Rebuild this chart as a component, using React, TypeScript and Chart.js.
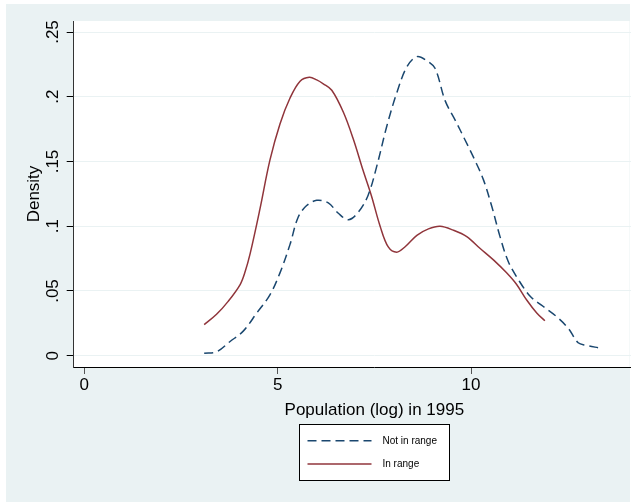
import React, { useEffect, useRef } from "react";
import { Chart, registerables } from "chart.js";

Chart.register(...registerables);

// ---- data ----
const seriesLabels = ["Not in range", "In range"];

const notInRangeX = [3.10, 3.42, 3.77, 4.11, 4.46, 4.80, 5.06, 5.32, 5.53, 5.75, 6.01, 6.31, 6.57, 6.83, 7.09, 7.34, 7.56, 7.82, 8.08, 8.34, 8.60, 8.85, 9.07, 9.33, 9.59, 9.84, 10.10, 10.32, 10.54, 10.75, 10.96, 11.22, 11.53, 11.87, 12.22, 12.52, 12.77, 12.99, 13.32];
const notInRangeY = [0.002, 0.003, 0.011, 0.019, 0.033, 0.047, 0.064, 0.086, 0.107, 0.116, 0.120, 0.118, 0.110, 0.105, 0.111, 0.124, 0.146, 0.177, 0.203, 0.223, 0.231, 0.228, 0.222, 0.197, 0.182, 0.167, 0.151, 0.136, 0.115, 0.092, 0.073, 0.059, 0.046, 0.038, 0.030, 0.021, 0.010, 0.008, 0.006];

const inRangeX = [3.10, 3.42, 3.72, 4.03, 4.16, 4.29, 4.54, 4.80, 5.06, 5.32, 5.58, 5.82, 6.01, 6.18, 6.40, 6.70, 6.96, 7.21, 7.43, 7.65, 7.86, 8.08, 8.29, 8.60, 8.90, 9.20, 9.54, 9.89, 10.23, 10.58, 10.92, 11.18, 11.44, 11.70, 11.91];
const inRangeY = [0.024, 0.032, 0.042, 0.055, 0.065, 0.079, 0.113, 0.151, 0.179, 0.199, 0.212, 0.215, 0.213, 0.210, 0.205, 0.188, 0.167, 0.143, 0.123, 0.100, 0.084, 0.080, 0.084, 0.093, 0.098, 0.100, 0.097, 0.092, 0.083, 0.074, 0.064, 0.055, 0.043, 0.033, 0.027];

const xTicks = [0, 5, 10];
const xTickLabels = ["0", "5", "10"];
const yTicks = [0, 0.05, 0.1, 0.15, 0.2, 0.25];
const yTickLabels = ["0", ".05", ".1", ".15", ".2", ".25"];

const xAxisTitle = "Population (log) in 1995";
const yAxisTitle = "Density";

// ---- styling ----
const FONT = '"Liberation Sans", Arial, Helvetica, sans-serif';
const BG = "#eaf2f3";
const NAVY = "#1a476f";
const MAROON = "#90353b";

const backgroundPlugin = {
  id: "stataBackground",
  beforeDraw(chart: any) {
    const { ctx, chartArea } = chart;
    ctx.save();
    ctx.fillStyle = "#ffffff";
    ctx.fillRect(0, 0, chart.width, chart.height);
    ctx.fillStyle = BG;
    ctx.fillRect(6, 4, 624, chart.height - 4);
    ctx.fillStyle = "#ffffff";
    const right = Math.min(chartArea.right, 629.5);
    ctx.fillRect(chartArea.left, chartArea.top, right - chartArea.left, chartArea.bottom - chartArea.top);
    ctx.restore();
  },
};

const boxLegendPlugin = {
  id: "boxLegend",
  afterDraw(chart: any) {
    const { ctx, chartArea } = chart;
    const w = 150;
    const h = 56;
    const cx = (chartArea.left + chartArea.right) / 2;
    const left = Math.round(cx - w / 2) + 0.5;
    const top = 424.5;
    ctx.save();
    ctx.fillStyle = "#ffffff";
    ctx.fillRect(left, top, w, h);
    ctx.strokeStyle = "#000000";
    ctx.lineWidth = 1;
    ctx.setLineDash([]);
    ctx.strokeRect(left, top, w, h);
    chart.data.datasets.forEach((ds: any, i: number) => {
      const y = top + 16.3 + i * 23.3;
      ctx.beginPath();
      ctx.setLineDash(ds.borderDash || []);
      ctx.strokeStyle = ds.borderColor;
      ctx.lineWidth = ds.borderWidth;
      ctx.moveTo(left + 8, y);
      ctx.lineTo(left + 72, y);
      ctx.stroke();
      ctx.setLineDash([]);
      ctx.fillStyle = "#000000";
      ctx.font = `10px ${FONT}`;
      ctx.textBaseline = "middle";
      ctx.textAlign = "left";
      ctx.fillText(ds.label, left + 83, y);
    });
    ctx.restore();
  },
};

function labelFor(ticks: number[], labels: string[], v: number) {
  const i = ticks.findIndex((t) => Math.abs(t - v) < 1e-9);
  return i >= 0 ? labels[i] : "";
}

export default function App() {
  const canvasRef = useRef<HTMLCanvasElement | null>(null);

  useEffect(() => {
    document.body.style.margin = "0";
    const canvas = canvasRef.current;
    if (!canvas) return;

    const chart = new Chart(canvas, {
      type: "line",
      data: {
        datasets: [
          {
            label: seriesLabels[0],
            data: notInRangeX.map((x, i) => ({ x, y: notInRangeY[i] })),
            borderColor: NAVY,
            borderWidth: 1.5,
            borderDash: [9, 5],
            fill: false,
            pointRadius: 0,
            tension: 0.35,
          },
          {
            label: seriesLabels[1],
            data: inRangeX.map((x, i) => ({ x, y: inRangeY[i] })),
            borderColor: MAROON,
            borderWidth: 1.5,
            fill: false,
            pointRadius: 0,
            tension: 0.35,
          },
        ],
      },
      options: {
        animation: false,
        responsive: false,
        devicePixelRatio: 1,
        layout: { padding: { top: 21, right: 5, bottom: 0, left: 0 } },
        plugins: {
          legend: { display: false },
          tooltip: { enabled: false },
        },
        scales: {
          x: {
            type: "linear",
            min: -0.274,
            max: 15.275,
            afterFit: (s: any) => {
              s.height = 135;
            },
            afterBuildTicks: (s: any) => {
              s.ticks = xTicks.map((v) => ({ value: v }));
            },
            grid: {
              display: true,
              drawOnChartArea: false,
              drawTicks: true,
              tickLength: 7,
              tickColor: "#555555",
              tickWidth: 1,
            },
            border: { display: true, color: "#000000", width: 1 },
            ticks: {
              autoSkip: false,
              minRotation: 0,
              maxRotation: 0,
              padding: 1,
              color: "#000000",
              font: { family: FONT, size: 17 },
              callback: (v: any) => labelFor(xTicks, xTickLabels, Number(v)),
            },
            title: {
              display: true,
              text: xAxisTitle,
              color: "#000000",
              font: { family: FONT, size: 17 },
              padding: { top: 0, bottom: 81 },
            },
          },
          y: {
            type: "linear",
            min: -0.0087,
            max: 0.2585,
            afterFit: (s: any) => {
              s.width = 73.7;
            },
            afterBuildTicks: (s: any) => {
              s.ticks = yTicks.map((v) => ({ value: v }));
            },
            grid: {
              color: BG,
              lineWidth: 1,
              drawTicks: true,
              tickLength: 7,
              tickColor: "#000000",
              tickWidth: 1,
            },
            border: { display: true, color: "#333333", width: 1 },
            ticks: {
              autoSkip: false,
              minRotation: 90,
              maxRotation: 90,
              crossAlign: "center",
              padding: 2,
              color: "#000000",
              font: { family: FONT, size: 17 },
              callback: (v: any) => labelFor(yTicks, yTickLabels, Number(v)),
            },
            title: {
              display: true,
              text: yAxisTitle,
              color: "#000000",
              font: { family: FONT, size: 17 },
              padding: { top: 24, bottom: 0 },
            },
          },
        },
      } as any,
      plugins: [backgroundPlugin, boxLegendPlugin],
    });

    return () => {
      chart.destroy();
    };
  }, []);

  return (
    <div style={{ width: 631, height: 502, overflow: "hidden", position: "relative" }}>
      <canvas ref={canvasRef} width={680} height={502} style={{ display: "block", width: 680, height: 502 }} />
    </div>
  );
}
